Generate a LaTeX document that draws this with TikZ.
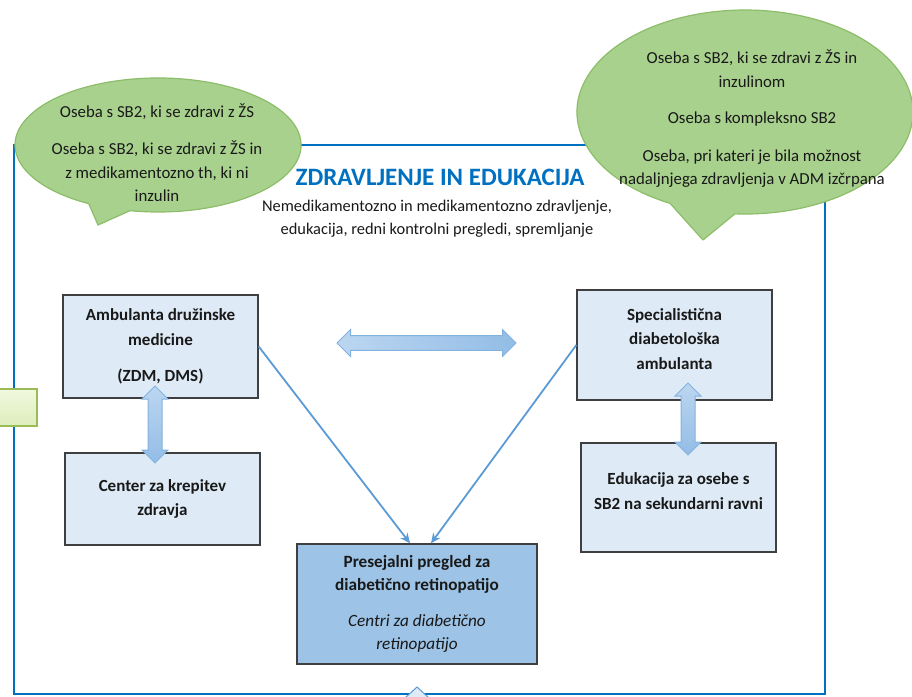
\documentclass[tikz,border=0pt]{standalone}
\usepackage{fontspec}
\setmainfont{Carlito}
\usetikzlibrary{arrows.meta,shapes.arrows}
\definecolor{frameblue}{HTML}{0070C0}
\definecolor{bubblefill}{HTML}{A9D18E}
\definecolor{bubbleline}{HTML}{8CBD68}
\definecolor{boxfill}{HTML}{DEEBF7}
\definecolor{boxline}{HTML}{3F3F3F}
\definecolor{presfill}{HTML}{9DC3E6}
\definecolor{lineblue}{HTML}{5B9BD5}
\definecolor{arrowline}{HTML}{84B2DF}
\definecolor{arrowlight}{HTML}{BCD6F0}
\definecolor{arrowdark}{HTML}{93BDE6}
\definecolor{greenline}{HTML}{9BBB59}
\definecolor{greenlight}{HTML}{F1F8DE}
\definecolor{greendark}{HTML}{DDEEBC}
\begin{document}
\begin{tikzpicture}[x=1pt,y=-1pt,
  frame/.style={draw=frameblue,line width=2.6pt},
  bubble/.style={fill=bubblefill,draw=bubbleline,line width=1.2pt,line join=round},
  bubbletext/.style={align=center,font=\fontsize{16.8}{23.5}\selectfont,text=black!90},
  box/.style={draw=boxline,fill=boxfill,line width=1.4pt,align=center,inner sep=0pt,
    font=\fontsize{17}{24.5}\selectfont\bfseries,text=black!90},
  darrow/.style={double arrow,draw=arrowline,line width=1pt,inner sep=6.5pt,
    double arrow head extend=6pt,double arrow tip angle=90,
    top color=arrowlight,bottom color=arrowdark},
  conn/.style={draw=lineblue,line width=1.8pt,-{Stealth[length=10pt,width=9pt]}}
]
\useasboundingbox (0,0) rectangle (912,696);
\clip (0,0) rectangle (912,696);

% main frame
\draw[frame] (14,145) rectangle (825,694);
\draw[fill=boxfill,draw=lineblue,line width=1pt] (405,698) -- (417,687) -- (429,698);

% bubbles
\path[bubble] (130.0,210.7) -- (98,225) -- (88.7,203.6)
  arc[start angle=119,end angle=461.3,x radius=143,y radius=67] -- cycle;
\node[bubbletext] (lbt) at (157,152.5) {Oseba s SB2, ki se zdravi z ŽS\\[14pt]
  Oseba s SB2, ki se zdravi z ŽS in\\ z medikamentozno th, ki ni\\ inzulin};

\path[bubble] (735,213.8) -- (703,240) -- (670,203.3)
  arc[start angle=116.5,end angle=453.4,x radius=168,y radius=102] -- cycle;
\node[bubbletext] (rbt) at (752,119) {Oseba s SB2, ki se zdravi z ŽS in\\ inzulinom\\[13pt]
  Oseba s kompleksno SB2\\[14pt]
  Oseba, pri kateri je bila možnost\\ nadaljnjega zdravljenja v ADM izčrpana};

% title
\node[font=\fontsize{25}{28}\selectfont\bfseries,text=frameblue] (title) at (440,177)
  {ZDRAVLJENJE IN EDUKACIJA};
\node[align=center,font=\fontsize{16.4}{23}\selectfont,text=black!90] (sub) at (437,219)
  {Nemedikamentozno in medikamentozno zdravljenje,\\ edukacija, redni kontrolni pregledi, spremljanje};

% side green rectangle
\node[draw=greenline,line width=1.2pt,top color=greenlight,bottom color=greendark,
  minimum width=42pt,minimum height=37pt,inner sep=0pt] (green) at (16,407.5) {};

% boxes
\node[box,minimum width=195pt,minimum height=103pt] (amb) at (160.5,346.5)
  {Ambulanta družinske\\ medicine\\[12pt] (ZDM, DMS)};
\node[box,minimum width=195pt,minimum height=92pt] (ck) at (162.5,499)
  {Center za krepitev\\ zdravja};
\node[box,minimum width=195pt,minimum height=110pt] (spec) at (674.5,345)
  {Specialistična\\ diabetološka\\ ambulanta\\[-12pt]};
\node[box,minimum width=195pt,minimum height=109pt] (edu) at (678.5,497.5)
  {Edukacija za osebe s\\ SB2 na sekundarni ravni\\[-12pt]};
\node[box,fill=presfill,minimum width=240pt,minimum height=120pt,
  font=\fontsize{17.2}{23.5}\selectfont\bfseries] (pres) at (417,604)
  {Presejalni pregled za\\ diabetično retinopatijo\\[12pt]
   {\normalfont\itshape Centri za diabetično}\\ {\normalfont\itshape retinopatijo}};

% block double arrows
\node[darrow,minimum height=179pt,minimum width=27pt,left color=arrowlight,right color=arrowdark]
  (harr) at (426.5,343) {};
\node[darrow,shape border rotate=90,minimum height=77pt,minimum width=25pt] (larr) at (155,424.5) {};
\node[darrow,shape border rotate=90,minimum height=72pt,minimum width=25pt] (rarr) at (688,419) {};

% connectors
\draw[conn] (amb.east) -- ([xshift=-7pt]pres.north);
\draw[conn] (spec.west) -- ([xshift=14pt]pres.north);
\end{tikzpicture}
\end{document}
